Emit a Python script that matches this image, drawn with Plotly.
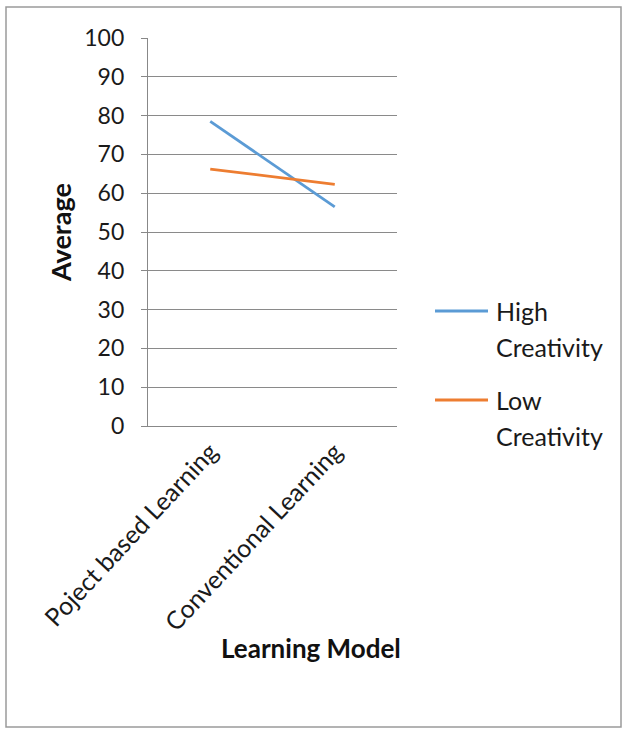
import plotly.graph_objects as go

categories = ["Poject based Learning", "Conventional Learning"]
high_creativity = [78.5, 56.5]
low_creativity = [66.2, 62.3]
series_names = ["High Creativity", "Low Creativity"]
series_colors = ["#5B9BD5", "#ED7D31"]
y_ticks = list(range(0, 101, 10))

W, H = 624, 737
L, R, T, B = 148, 227, 38, 311
PW, PH = W - L - R, H - T - B


def px(x):
    return (x - L) / PW


def py(y):
    return (H - B - y) / PH


FONT = "Lato, Carlito, Calibri, sans-serif"

fig = go.Figure()
for name, vals, col in zip(series_names, [high_creativity, low_creativity], series_colors):
    fig.add_trace(go.Scatter(x=categories, y=vals, mode="lines", name=name,
                             line=dict(color=col, width=2.8), showlegend=False))

fig.update_layout(
    width=W, height=H,
    margin=dict(l=L, r=R, t=T, b=B, autoexpand=False),
    paper_bgcolor="white", plot_bgcolor="white",
    font=dict(family=FONT, color="#1a1a1a", size=22),
    xaxis=dict(type="category", range=[-0.5, 1.5], showline=True, linecolor="#888",
               linewidth=1.2, ticks="", tickangle=-47, showgrid=False, zeroline=False,
               tickfont=dict(size=25, family=FONT, color="#1a1a1a")),
    yaxis=dict(range=[0, 100], tickvals=y_ticks, showline=True, linecolor="#888",
               linewidth=1.2, ticks="outside", ticklen=6, tickcolor="#888",
               showgrid=True, gridcolor="#8a8a8a", gridwidth=1.2, zeroline=False,
               ticklabelstandoff=12,
               tickfont=dict(size=23, family=FONT, color="#1a1a1a")),
)

shapes = [dict(type="rect", xref="paper", yref="paper",
               x0=px(6), x1=px(621), y0=py(727), y1=py(7),
               line=dict(color="#9a9a9a", width=1.5), layer="below")]
annotations = [
    dict(text="<b>Learning Model</b>", x=px(311), y=py(648), xref="paper", yref="paper",
         showarrow=False, font=dict(size=26, family=FONT, color="#111"),
         xanchor="center", yanchor="middle"),
    dict(text="<b>Average</b>", x=px(60), y=py(233), xref="paper", yref="paper",
         showarrow=False, textangle=-90, font=dict(size=27, family=FONT, color="#111"),
         xanchor="center", yanchor="middle"),
]

legend_y = [311, 400]
for name, col, ly in zip(series_names, series_colors, legend_y):
    shapes.append(dict(type="line", xref="paper", yref="paper",
                       x0=px(435), x1=px(488), y0=py(ly), y1=py(ly),
                       line=dict(color=col, width=2.8)))
    words = name.split(" ")
    for i, w in enumerate(words):
        annotations.append(dict(text=w, x=px(494), y=py(ly + 36 * i), xref="paper", yref="paper",
                                showarrow=False, xanchor="left", yanchor="middle",
                                font=dict(size=25, family=FONT, color="#1a1a1a")))

fig.update_layout(shapes=shapes, annotations=annotations)
fig.write_html("out.html")
